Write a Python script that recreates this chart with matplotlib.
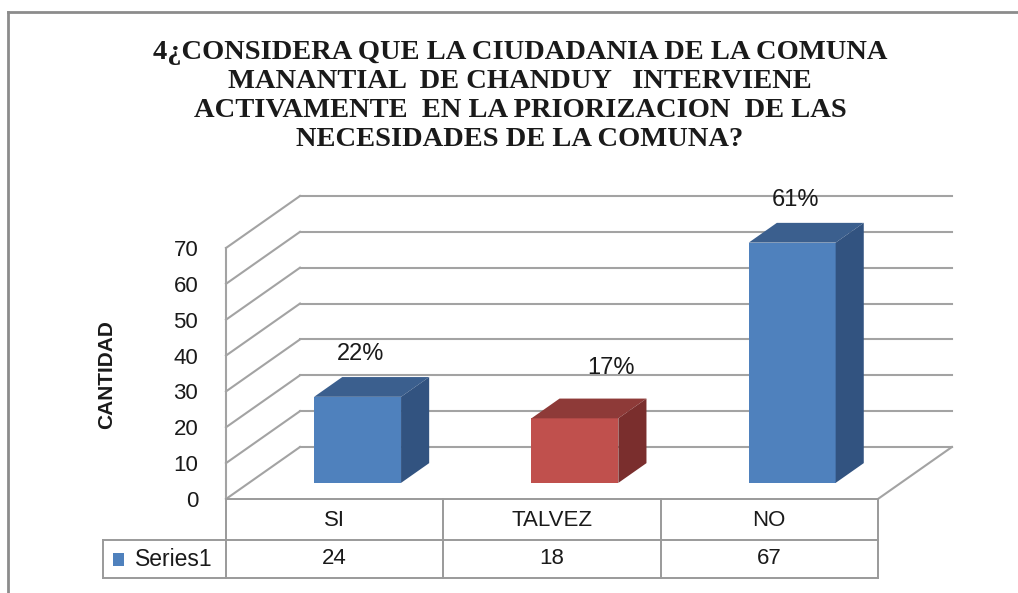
import matplotlib
matplotlib.use("Agg")
import matplotlib.pyplot as plt
from matplotlib.patches import Polygon, Rectangle
from matplotlib.lines import Line2D

# ---- data ----
categories = ["SI", "TALVEZ", "NO"]
values = [24, 18, 67]
pct_labels = ["22%", "17%", "61%"]
series_name = "Series1"
yticks = [0, 10, 20, 30, 40, 50, 60, 70]
title = ("4¿CONSIDERA QUE LA CIUDADANIA DE LA COMUNA\n"
         "MANANTIAL  DE CHANDUY   INTERVIENE\n"
         "ACTIVAMENTE  EN LA PRIORIZACION  DE LAS\n"
         "NECESIDADES DE LA COMUNA?")
ylabel = "CANTIDAD"

# ---- style ----
face_cols = ["#4F81BD", "#C0504D", "#4F81BD"]
top_cols = ["#3B5F8E", "#8E3A38", "#3B5F8E"]
side_cols = ["#325380", "#7A2E2D", "#325380"]
label_nudge_px = [(0, 0), (33, -8), (0, 0)]   # manual placement of the data labels
grid_col = "#A3A3A3"
tab_col = "#9A9A9A"
txt_col = "#1a1a1a"
sans = ["Liberation Sans", "DejaVu Sans"]
serif = ["Liberation Serif", "DejaVu Serif"]

W, H = 1018, 593
fig = plt.figure(figsize=(W / 100, H / 100), dpi=100)
fig.patch.set_facecolor("white")

# outer chart border
fig.add_artist(Line2D([8 / W, 1.0], [1 - 12 / H, 1 - 12 / H], color="#8C8C8C", lw=2, transform=fig.transFigure))
fig.add_artist(Line2D([8 / W, 8 / W], [0, 1 - 12 / H], color="#8C8C8C", lw=2, transform=fig.transFigure))

# axes: front plane x=226..878 px, value 0 at y=499 px; depth extends to x=953, y=196
px_cat = 217.3
px_unit = 3.586
ax = fig.add_axes([226 / W, (H - 499) / H, (953 - 226) / W, (499 - 196) / H])
n = len(categories)
ax.set_xlim(-0.5, -0.5 + (953 - 226) / px_cat)
ax.set_ylim(0, (499 - 196) / px_unit)
dx = 74 / px_cat
dy = 52 / px_unit
for s in ax.spines.values():
    s.set_visible(False)
ax.set_xticks([])
ax.set_yticks(yticks)
ax.set_yticklabels([str(t) for t in yticks], fontsize=16, family=sans, color=txt_col)
ax.tick_params(axis="y", length=0, pad=20)
ax.patch.set_alpha(0)

x0, x1 = -0.5, n - 0.5
top = yticks[-1]
lw = 1.5
# back wall gridlines + left wall diagonals
for t in yticks:
    ax.plot([x0 + dx, x1 + dx], [t + dy, t + dy], color=grid_col, lw=lw, clip_on=False, zorder=1)
    ax.plot([x0, x0 + dx], [t, t + dy], color=grid_col, lw=lw, clip_on=False, zorder=1)
# left wall front edge
ax.plot([x0, x0], [0, top], color=grid_col, lw=lw, clip_on=False, zorder=1)
# floor right edge
ax.plot([x1, x1 + dx], [0, dy], color=grid_col, lw=lw, clip_on=False, zorder=1)

# bars (3D look)
bw = 0.4
f0, f1 = 0.31, 0.69
xs = list(range(n))
ax.bar([x + f0 * dx for x in xs], values, width=bw, bottom=f0 * dy,
       color=face_cols, edgecolor="none", zorder=3)
ddx = (f1 - f0) * dx
ddy = (f1 - f0) * dy
for i, v in enumerate(values):
    left = i - bw / 2 + f0 * dx
    right = i + bw / 2 + f0 * dx
    yb = f0 * dy
    yt = v + f0 * dy
    ax.add_patch(Polygon([(left, yt), (right, yt), (right + ddx, yt + ddy), (left + ddx, yt + ddy)],
                         closed=True, facecolor=top_cols[i], edgecolor="none", zorder=3, clip_on=False))
    ax.add_patch(Polygon([(right, yb), (right, yt), (right + ddx, yt + ddy), (right + ddx, yb + ddy)],
                         closed=True, facecolor=side_cols[i], edgecolor="none", zorder=3, clip_on=False))
    nx, ny = label_nudge_px[i]
    ax.text(i + f0 * dx + (3 + nx) / px_cat, yt + ddy + (23 - ny) / px_unit, pct_labels[i],
            ha="center", va="center", fontsize=17, family=sans, color=txt_col, zorder=5)

# data table below
r1 = -41 / px_unit
r2 = -79 / px_unit
lab_left = -0.5 - 123 / px_cat
tl = 1.4
ax.plot([x0, x1], [0, 0], color=tab_col, lw=tl, clip_on=False)
ax.plot([lab_left, x1], [r1, r1], color=tab_col, lw=tl, clip_on=False)
ax.plot([lab_left, x1], [r2, r2], color=tab_col, lw=tl, clip_on=False)
ax.plot([lab_left, lab_left], [r1, r2], color=tab_col, lw=tl, clip_on=False)
for k in range(n + 1):
    ax.plot([k - 0.5, k - 0.5], [0, r2], color=tab_col, lw=tl, clip_on=False)
for i, c in enumerate(categories):
    ax.text(i, r1 / 2 - 1 / px_unit, c, ha="center", va="center", fontsize=16, family=sans, color=txt_col)
    ax.text(i, (r1 + r2) / 2, str(values[i]), ha="center", va="center", fontsize=16, family=sans, color=txt_col)
# legend key in table
key_w = 11 / px_cat
key_h = 13 / px_unit
kx = lab_left + 10 / px_cat
ym = (r1 + r2) / 2
ax.add_patch(Rectangle((kx, ym - key_h / 2), key_w, key_h, facecolor=face_cols[0], edgecolor="none", clip_on=False))
ax.text(kx + key_w + 11 / px_cat, ym, series_name, ha="left", va="center", fontsize=16.5, family=sans, color=txt_col)

# title and axis label
fig.text(520 / W, 1 - 96 / H, title, ha="center", va="center", fontsize=20.5, fontweight="bold",
         family=serif, linespacing=1.2, color=txt_col)
fig.text(107 / W, 1 - 375 / H, ylabel, ha="center", va="center", rotation=90, fontsize=15,
         fontweight="bold", family=sans, color=txt_col)

fig.savefig("out.png", dpi=100)
